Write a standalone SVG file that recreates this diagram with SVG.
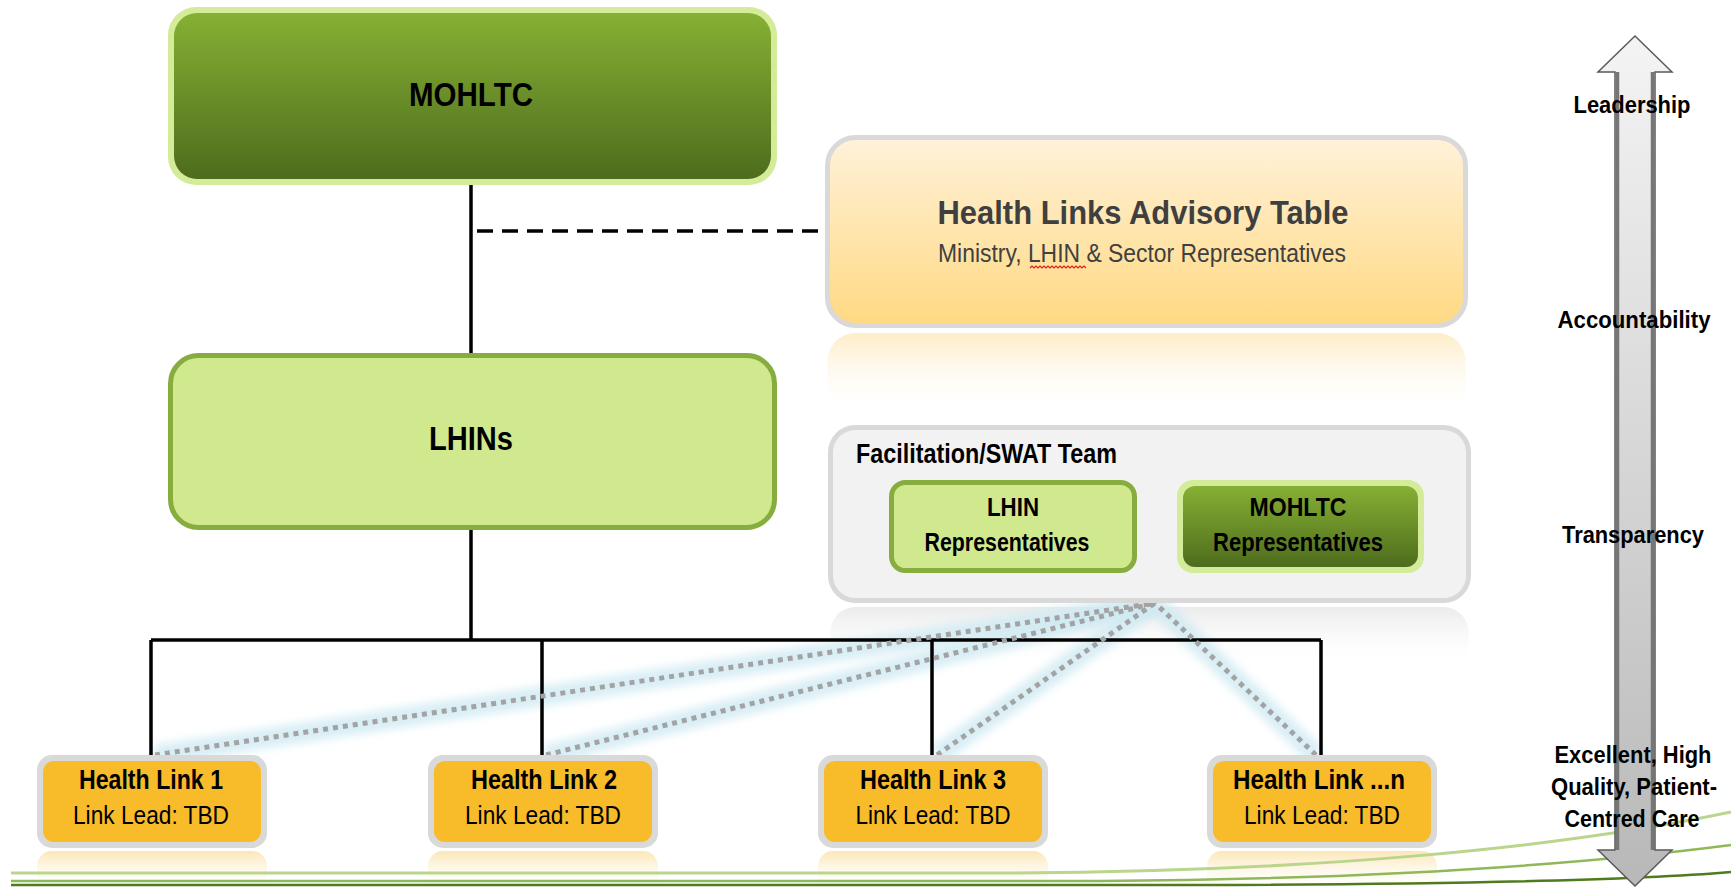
<svg xmlns="http://www.w3.org/2000/svg" width="1731" height="887" viewBox="0 0 1731 887">
<style>
text{font-family:"Liberation Sans Narrow","Liberation Sans",Arial,sans-serif;fill:#000}
.b{font-weight:bold}
.c{text-anchor:middle}
.conn{stroke:#000;stroke-width:3.5;fill:none}
.dot{stroke:#a3a3a3;stroke-width:5;stroke-dasharray:5 5;fill:none}
.glow{stroke:#cfeaf3;stroke-width:20;fill:none;opacity:.8;filter:url(#blur)}
.hlo{fill:#d9d9d9}
.hli{fill:#f8bb2a}
.hlr{fill:url(#hlRef)}
</style>
<defs>
<linearGradient id="darkG" x1="0" y1="0" x2="0" y2="1"><stop offset="0" stop-color="#86b034"/><stop offset="1" stop-color="#4e6c1d"/></linearGradient>
<linearGradient id="advG" x1="0" y1="0" x2="0" y2="1"><stop offset="0" stop-color="#fff2da"/><stop offset="1" stop-color="#ffd982"/></linearGradient>
<linearGradient id="advRef" x1="0" y1="0" x2="0" y2="1"><stop offset="0" stop-color="#fde3a8" stop-opacity=".65"/><stop offset="1" stop-color="#fff" stop-opacity="0"/></linearGradient>
<linearGradient id="grayRef" x1="0" y1="0" x2="0" y2="1"><stop offset="0" stop-color="#e6e6e6" stop-opacity=".8"/><stop offset="1" stop-color="#fff" stop-opacity="0"/></linearGradient>
<linearGradient id="hlRef" x1="0" y1="0" x2="0" y2="1"><stop offset="0" stop-color="#f8c85a" stop-opacity=".45"/><stop offset="1" stop-color="#fff" stop-opacity="0"/></linearGradient>
<linearGradient id="arrG" x1="0" y1="0" x2="0" y2="1"><stop offset="0" stop-color="#f4f4f4"/><stop offset="1" stop-color="#b8b8b8"/></linearGradient>
<filter id="blur" x="-10%" y="-50%" width="120%" height="200%"><feGaussianBlur stdDeviation="4"/></filter>
</defs>
<rect width="1731" height="887" fill="#fff"/>

<g id="reflections">
<rect x="827.5" y="333" width="638" height="80" rx="28" fill="url(#advRef)"/>
<rect x="830.5" y="607" width="638" height="60" rx="25" fill="url(#grayRef)"/>
<rect x="37" y="851" width="230" height="40" rx="15" class="hlr"/>
<rect x="428" y="851" width="230" height="40" rx="15" class="hlr"/>
<rect x="818" y="851" width="230" height="40" rx="15" class="hlr"/>
<rect x="1207" y="851" width="230" height="40" rx="15" class="hlr"/>
</g>

<g id="connectors">
<path class="glow" d="M155 755 L1155 603"/>
<path class="glow" d="M546 755 L1155 603"/>
<path class="glow" d="M937 755 L1155 603"/>
<path class="glow" d="M1316 755 L1155 603"/>
<path class="conn" d="M471 185 V353"/>
<path class="conn" d="M471 530 V640"/>
<path class="conn" d="M151 640 H1321"/>
<path class="conn" d="M151 640 V755 M542 640 V755 M932 640 V755 M1321 640 V755"/>
<path d="M477 231 H826" stroke="#000" stroke-width="3.5" stroke-dasharray="16 9" fill="none"/>
<path class="dot" d="M155 755 L1155 603"/>
<path class="dot" d="M546 755 L1155 603"/>
<path class="dot" d="M937 755 L1155 603"/>
<path class="dot" d="M1316 755 L1155 603"/>
</g>

<g id="mohltc">
<rect x="168" y="7" width="609" height="178" rx="28" fill="#d4ec9a"/>
<rect x="174" y="13" width="597" height="166" rx="23" fill="url(#darkG)"/>
<text x="471" y="106" class="b c" font-size="34" textLength="124" lengthAdjust="spacingAndGlyphs">MOHLTC</text>
</g>

<g id="advisory">
<rect x="827.5" y="137.5" width="638" height="188" rx="28" fill="url(#advG)" stroke="#d9d9d9" stroke-width="5"/>
<text x="1143" y="224" class="b c" font-size="33" style="fill:#3f3f3f" textLength="411" lengthAdjust="spacingAndGlyphs">Health Links Advisory Table</text>
<text x="1142" y="262" class="c" font-size="26" style="fill:#404040" textLength="408" lengthAdjust="spacingAndGlyphs">Ministry, LHIN &amp; Sector Representatives</text>
<path d="M1030 268 l2 -2 l2 2 l2 -2 l2 2 l2 -2 l2 2 l2 -2 l2 2 l2 -2 l2 2 l2 -2 l2 2 l2 -2 l2 2 l2 -2 l2 2 l2 -2 l2 2 l2 -2 l2 2 l2 -2 l2 2 l2 -2 l2 2 l2 -2 l2 2 l2 -2 l2 2" stroke="#e02020" stroke-width="1.2" fill="none"/>
</g>

<g id="lhins">
<rect x="170.5" y="355.5" width="604" height="172" rx="28" fill="#d0e98e" stroke="#88ad3f" stroke-width="5"/>
<text x="471" y="450" class="b c" font-size="34" textLength="84" lengthAdjust="spacingAndGlyphs">LHINs</text>
</g>

<g id="facilitation">
<rect x="830.5" y="427.5" width="638" height="173" rx="25" fill="#f2f2f2" stroke="#d9d9d9" stroke-width="5"/>
<text x="856" y="463" class="b" font-size="27" textLength="261" lengthAdjust="spacingAndGlyphs">Facilitation/SWAT Team</text>
</g>

<g id="lhin-reps">
<rect x="891.5" y="482.5" width="243" height="88" rx="14" fill="#d0e98e" stroke="#88ad3f" stroke-width="5"/>
<text x="1013" y="516" class="b c" font-size="26" textLength="52" lengthAdjust="spacingAndGlyphs">LHIN</text>
<text x="1007" y="551" class="b c" font-size="26" textLength="165" lengthAdjust="spacingAndGlyphs">Representatives</text>
</g>

<g id="mohltc-reps">
<rect x="1177" y="480" width="247" height="93" rx="16" fill="#d4ec9a"/>
<rect x="1183" y="486" width="235" height="81" rx="12" fill="url(#darkG)"/>
<text x="1298" y="516" class="b c" font-size="26" textLength="97" lengthAdjust="spacingAndGlyphs">MOHLTC</text>
<text x="1298" y="551" class="b c" font-size="26" textLength="170" lengthAdjust="spacingAndGlyphs">Representatives</text>
</g>

<g id="hl1">
<rect x="37" y="755" width="230" height="93" rx="15" class="hlo"/>
<rect x="43" y="761" width="218" height="81" rx="11" class="hli"/>
<text x="151" y="789" class="b c" font-size="27" textLength="144" lengthAdjust="spacingAndGlyphs">Health Link 1</text>
<text x="151" y="824" class="c" font-size="26" textLength="156" lengthAdjust="spacingAndGlyphs">Link Lead: TBD</text>
</g>
<g id="hl2">
<rect x="428" y="755" width="230" height="93" rx="15" class="hlo"/>
<rect x="434" y="761" width="218" height="81" rx="11" class="hli"/>
<text x="544" y="789" class="b c" font-size="27" textLength="146" lengthAdjust="spacingAndGlyphs">Health Link 2</text>
<text x="543" y="824" class="c" font-size="26" textLength="156" lengthAdjust="spacingAndGlyphs">Link Lead: TBD</text>
</g>
<g id="hl3">
<rect x="818" y="755" width="230" height="93" rx="15" class="hlo"/>
<rect x="824" y="761" width="218" height="81" rx="11" class="hli"/>
<text x="933" y="789" class="b c" font-size="27" textLength="146" lengthAdjust="spacingAndGlyphs">Health Link 3</text>
<text x="933" y="824" class="c" font-size="26" textLength="155" lengthAdjust="spacingAndGlyphs">Link Lead: TBD</text>
</g>
<g id="hln">
<rect x="1207" y="755" width="230" height="93" rx="15" class="hlo"/>
<rect x="1213" y="761" width="218" height="81" rx="11" class="hli"/>
<text x="1319" y="789" class="b c" font-size="27" textLength="172" lengthAdjust="spacingAndGlyphs">Health Link ...n</text>
<text x="1322" y="824" class="c" font-size="26" textLength="156" lengthAdjust="spacingAndGlyphs">Link Lead: TBD</text>
</g>

<g id="swoosh" fill="none">
<path d="M11 873 H1000 C1300 872 1550 850 1731 812" stroke="#b9d68c" stroke-width="3"/>
<path d="M11 881 H1100 C1400 879 1600 862 1731 845" stroke="#8fb858" stroke-width="2.5"/>
<path d="M11 885 H1200 C1500 884 1650 879 1731 872" stroke="#4f7a1e" stroke-width="2.5"/>
</g>

<g id="value-arrow">
<polygon points="1635,36 1672,72 1655,72 1655,850 1672,850 1635,886 1598,850 1615,850 1615,72 1598,72" fill="url(#arrG)" stroke="#5a5a5a" stroke-width="1.5"/>
<path d="M1617.5 72 V850 M1652.5 72 V850" stroke="#767676" stroke-width="3.5"/>
<text x="1632" y="113" class="b c" font-size="24" textLength="117" lengthAdjust="spacingAndGlyphs">Leadership</text>
<text x="1634" y="328" class="b c" font-size="24" textLength="153" lengthAdjust="spacingAndGlyphs">Accountability</text>
<text x="1633" y="543" class="b c" font-size="24" textLength="142" lengthAdjust="spacingAndGlyphs">Transparency</text>
<text x="1633" y="763" class="b c" font-size="24" textLength="157" lengthAdjust="spacingAndGlyphs">Excellent, High</text>
<text x="1634" y="795" class="b c" font-size="24" textLength="166" lengthAdjust="spacingAndGlyphs">Quality, Patient-</text>
<text x="1632" y="827" class="b c" font-size="24" textLength="135" lengthAdjust="spacingAndGlyphs">Centred Care</text>
</g>
</svg>
